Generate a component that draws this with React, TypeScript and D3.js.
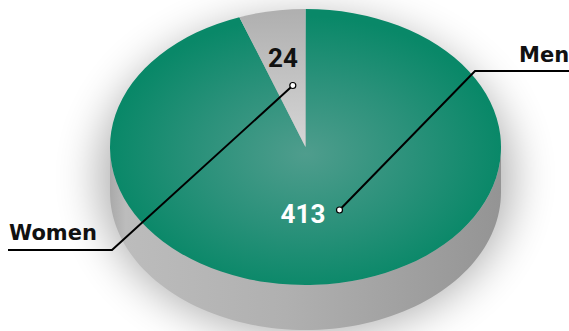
import React from "react";
import * as d3 from "d3";

const categories = ["Men", "Women"];
const values = [413, 24];
const valueLabels = ["413", "24"];

const W = 569;
const H = 331;

export default function App() {
  const cx = 305.5;
  const cy = 147;
  const rx = 195.5;
  const ry = 138;
  const depth = 45;
  const k = ry / rx;

  // Women slice first counter-clockwise from 12 o'clock: order so Men starts at 0 and Women ends at 2π
  const pie = d3
    .pie<number>()
    .sort(null)
    .value((d) => d)
    .startAngle(0)
    .endAngle(2 * Math.PI);
  const arcs = pie(values);
  const arc = d3.arc<d3.PieArcDatum<number>>().innerRadius(0).outerRadius(rx);

  const proj = (a: number, r: number) => [cx + r * Math.sin(a), cy - r * Math.cos(a) * k];

  const sidePath = d3.path();
  sidePath.moveTo(cx + rx, cy);
  sidePath.lineTo(cx + rx, cy + depth);
  const steps = 90;
  for (let i = 0; i <= steps; i++) {
    const a = Math.PI / 2 + (Math.PI * i) / steps;
    const [x, y] = proj(a, rx);
    sidePath.lineTo(x, y + depth);
  }
  sidePath.lineTo(cx - rx, cy);
  for (let i = steps; i >= 0; i--) {
    const a = Math.PI / 2 + (Math.PI * i) / steps;
    const [x, y] = proj(a, rx);
    sidePath.lineTo(x, y);
  }
  sidePath.closePath();

  const fills = ["url(#greenGrad)", "url(#grayGrad)"];

  // label anchors (dot positions) via fraction of radius along slice mid-angle
  const menDot = [339.5, 210];
  const womenDot = [292.8, 85.5];
  const font = "'DejaVu Sans', sans-serif";
  const numFont = "Roboto, 'Open Sans', sans-serif";

  return (
    <svg width={W} height={H} style={{ position: "absolute", left: 0, top: 0 }}>
      <defs>
        <radialGradient id="greenGrad" gradientUnits="userSpaceOnUse" cx={0} cy={10} r={rx}>
          <stop offset="0%" stopColor="#4f9d8d" />
          <stop offset="55%" stopColor="#2a917a" />
          <stop offset="100%" stopColor="#098868" />
        </radialGradient>
        <linearGradient id="grayGrad" gradientUnits="userSpaceOnUse" x1={0} y1={-rx} x2={0} y2={0}>
          <stop offset="0%" stopColor="#afafaf" />
          <stop offset="100%" stopColor="#d6d6d6" />
        </linearGradient>
        <linearGradient id="sideGrad" gradientUnits="userSpaceOnUse" x1={cx - rx} y1={0} x2={cx + rx} y2={0}>
          <stop offset="0%" stopColor="#a9a9a9" />
          <stop offset="4%" stopColor="#bcbcbc" />
          <stop offset="45%" stopColor="#b0b0b0" />
          <stop offset="100%" stopColor="#949494" />
        </linearGradient>
        <filter id="blur" x="-50%" y="-50%" width="200%" height="200%">
          <feGaussianBlur stdDeviation="22" />
        </filter>
      </defs>
      <rect width={W} height={H} fill="#ffffff" />
      <ellipse cx={cx} cy={cy + 30} rx={rx + 12} ry={ry + 22} fill="#000" opacity={0.3} filter="url(#blur)" />
      <path d={sidePath.toString()} fill="url(#sideGrad)" />
      <g transform={`translate(${cx},${cy}) scale(1,${k})`}>
        {arcs.map((a, i) => (
          <path key={categories[i]} d={arc(a) || ""} fill={fills[i]} />
        ))}
      </g>
      {/* value labels */}
      <text x={303} y={223} textAnchor="middle" fontFamily={numFont} fontWeight={700} fontSize={26} fill="#ffffff">
        {valueLabels[0]}
      </text>
      <text x={283} y={67} textAnchor="middle" fontFamily={numFont} fontWeight={700} fontSize={26} fill="#111111">
        {valueLabels[1]}
      </text>
      {/* leader lines */}
      <polyline
        points={`${menDot[0]},${menDot[1]} 475,71 ${W},71`}
        fill="none"
        stroke="#000"
        strokeWidth={2}
      />
      <polyline
        points={`${womenDot[0]},${womenDot[1]} 112,250 8,250`}
        fill="none"
        stroke="#000"
        strokeWidth={2}
      />
      <circle cx={menDot[0]} cy={menDot[1]} r={3} fill="#fff" stroke="#000" strokeWidth={1.2} />
      <circle cx={womenDot[0]} cy={womenDot[1]} r={3} fill="#fff" stroke="#000" strokeWidth={1.2} />
      <text x={519} y={62} fontFamily={font} fontWeight={700} fontSize={21} fill="#111111">
        {categories[0]}
      </text>
      <text x={9} y={240} fontFamily={font} fontWeight={700} fontSize={21} fill="#111111">
        {categories[1]}
      </text>
    </svg>
  );
}
